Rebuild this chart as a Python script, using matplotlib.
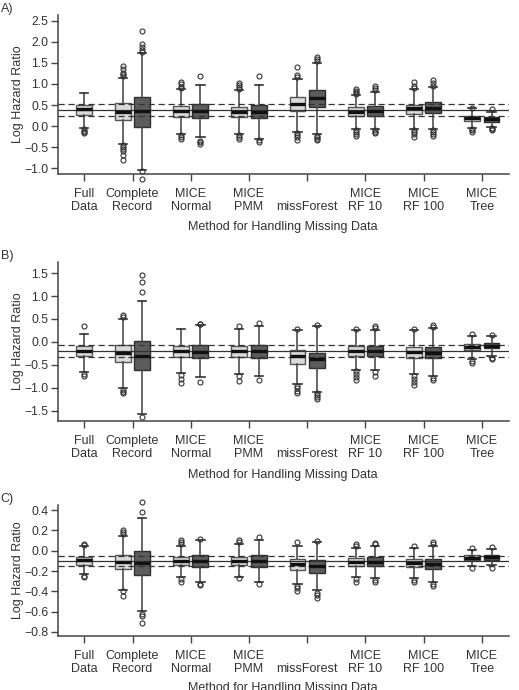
import numpy as np
import matplotlib.pyplot as plt

plt.rcParams['font.family'] = ['Liberation Sans', 'DejaVu Sans']

methods = ['Full\nData', 'Complete\nRecord', 'MICE\nNormal', 'MICE\nPMM',
           '\nmissForest', 'MICE\nRF 10', 'MICE\nRF 100', 'MICE\nTree']

# box order: Full Data, then (light, dark) pair for each other method
# Panel A
a_q1 = [0.26, 0.14, -0.02, 0.21, 0.20, 0.21, 0.19, 0.36, 0.45, 0.24, 0.24, 0.28, 0.30, 0.13, 0.10]
a_med = [0.40, 0.33, 0.36, 0.35, 0.35, 0.34, 0.34, 0.52, 0.66, 0.34, 0.36, 0.42, 0.44, 0.18, 0.16]
a_q3 = [0.49, 0.55, 0.70, 0.47, 0.53, 0.46, 0.51, 0.68, 0.86, 0.45, 0.48, 0.50, 0.56, 0.245, 0.21]
a_lo = [-0.05, -0.42, -1.04, -0.20, -0.27, -0.19, -0.30, -0.13, -0.20, -0.06, -0.06, -0.07, -0.06, -0.04, -0.02]
a_hi = [0.79, 1.15, 1.73, 0.87, 0.97, 0.85, 0.97, 1.13, 1.51, 0.74, 0.82, 0.87, 0.92, 0.42, 0.34]
a_out = [[-0.08, -0.11, -0.14, -0.17],
         [1.2, 1.23, 1.27, 1.35, 1.42, -0.46, -0.5, -0.54, -0.6, -0.68, -0.8],
         [1.76, 1.8, 1.88, 1.95, 2.25, -1.07, -1.25],
         [0.9, 0.94, 1.0, 1.05, -0.22, -0.25, -0.3],
         [1.18, -0.35, -0.39, -0.43],
         [0.88, 0.92, 0.97, 1.02, -0.22, -0.26, -0.3],
         [1.18, -0.33, -0.38],
         [1.17, 1.21, 1.41, -0.17, -0.22, -0.27, -0.32],
         [1.55, 1.6, 1.64, -0.23, -0.27, -0.3, -0.33],
         [0.77, 0.8, 0.83, 0.87, -0.1, -0.15, -0.2, -0.24],
         [0.86, 0.9, 0.95, -0.1, -0.13, -0.17],
         [0.9, 0.95, 1.05, -0.1, -0.15, -0.2, -0.25],
         [0.96, 1.02, 1.1, -0.1, -0.15, -0.2, -0.24],
         [0.44, -0.07, -0.1, -0.13],
         [0.4, -0.05, -0.08, -0.1]]
a_ref = [0.38, 0.24, 0.52]

# Panel B
b_q1 = [-0.31, -0.435, -0.61, -0.33, -0.35, -0.33, -0.35, -0.47, -0.565, -0.31, -0.31, -0.35, -0.35, -0.18, -0.14]
b_med = [-0.20, -0.25, -0.30, -0.20, -0.21, -0.20, -0.20, -0.31, -0.36, -0.19, -0.20, -0.22, -0.23, -0.11, -0.08]
b_q3 = [-0.095, -0.06, 0.013, -0.08, -0.07, -0.08, -0.07, -0.17, -0.23, -0.08, -0.08, -0.11, -0.11, -0.035, -0.02]
b_lo = [-0.66, -1.0, -1.57, -0.67, -0.77, -0.70, -0.75, -0.91, -1.09, -0.60, -0.60, -0.69, -0.75, -0.38, -0.30]
b_hi = [0.18, 0.50, 0.90, 0.28, 0.36, 0.28, 0.35, 0.27, 0.34, 0.27, 0.27, 0.27, 0.30, 0.14, 0.12]
b_out = [[0.34, -0.70, -0.73],
         [0.55, 0.58, -1.04, -1.08, -1.12],
         [1.09, 1.30, 1.46, -1.64],
         [-0.72, -0.80, -0.89],
         [0.38, 0.40, -0.87],
         [0.34, -0.75, -0.86],
         [0.42, -0.82],
         [0.29, -0.95, -1.0, -1.06, -1.12],
         [0.37, -1.12, -1.16, -1.2, -1.24],
         [0.29, -0.64, -0.7, -0.77, -0.83],
         [0.31, 0.34, -0.66, -0.73],
         [0.29, -0.74, -0.8, -0.87, -0.93],
         [0.33, 0.36, -0.78, -0.82],
         [0.17, -0.42, -0.46],
         [0.16, -0.34, -0.37]]
b_ref = [-0.20, -0.075, -0.33]

# Panel C
c_q1 = [-0.145, -0.178, -0.244, -0.145, -0.16, -0.145, -0.16, -0.187, -0.22, -0.155, -0.155, -0.16, -0.178, -0.096, -0.087]
c_med = [-0.096, -0.11, -0.12, -0.10, -0.105, -0.10, -0.105, -0.128, -0.155, -0.11, -0.11, -0.12, -0.128, -0.07, -0.063]
c_q3 = [-0.063, -0.047, -0.007, -0.063, -0.047, -0.063, -0.047, -0.078, -0.09, -0.068, -0.063, -0.078, -0.078, -0.047, -0.04]
c_lo = [-0.23, -0.385, -0.59, -0.26, -0.31, -0.26, -0.31, -0.325, -0.39, -0.26, -0.27, -0.27, -0.31, -0.155, -0.145]
c_hi = [0.042, 0.14, 0.325, 0.05, 0.11, 0.068, 0.11, 0.042, 0.09, 0.029, 0.05, 0.03, 0.05, 0.01, 0.019]
c_out = [[0.055, 0.068, -0.25, -0.26],
         [0.16, 0.18, 0.2, -0.4, -0.45],
         [0.38, 0.48, -0.62, -0.64, -0.71],
         [0.07, 0.09, 0.11, -0.28, -0.31],
         [0.12, -0.33, -0.34],
         [0.09, 0.11, -0.27],
         [0.13, -0.33],
         [0.09, -0.35, -0.37, -0.40],
         [0.1, -0.42, -0.44, -0.47],
         [0.05, 0.068, -0.28, -0.31],
         [0.065, 0.078, -0.29, -0.31],
         [0.05, -0.29, -0.31],
         [0.07, 0.09, -0.33, -0.35],
         [0.027, -0.17],
         [0.035, -0.17]]
c_ref = [-0.10, -0.05, -0.15]

# box positions: Full Data alone, then pairs with a gap between groups
positions = [1] + [p for g in range(1, 8) for p in (3 * g, 3 * g + 1)]
tick_pos = [1] + [3 * g + 0.5 for g in range(1, 8)]

LIGHT, DARK = '#dadada', '#5c5c5c'
EDGE_L, EDGE_D = '#555555', '#2f2f2f'
AX_COL = '#444444'


def fmt(t):
    v = round(float(t), 1) + 0.0
    return f'{v:.1f}'.replace('-', '\u2212')


def draw_panel(ax, q1, med, q3, lo, hi, out, ref, ylim, yticks, letter, xlab_y):
    stats = []
    for i in range(len(q1)):
        stats.append(dict(q1=q1[i], med=med[i], q3=q3[i], whislo=lo[i],
                          whishi=hi[i], fliers=out[i]))
    bp = ax.bxp(stats, positions=positions, widths=0.82, capwidths=0.42,
                patch_artist=True, manage_ticks=False,
                boxprops=dict(linewidth=1.0),
                medianprops=dict(color='#111111', linewidth=2.4, zorder=5),
                whiskerprops=dict(color='#4d4d4d', linewidth=1.2),
                capprops=dict(color='#333333', linewidth=1.2),
                flierprops=dict(marker='o', markersize=3.6, markerfacecolor='none',
                                markeredgecolor='#333333', markeredgewidth=0.8))
    for i, box in enumerate(bp['boxes']):
        dark = i > 0 and i % 2 == 0
        box.set_facecolor(DARK if dark else LIGHT)
        box.set_edgecolor(EDGE_D if dark else EDGE_L)
    # outliers may sit just beyond the axis range, as in the original
    for fl in bp['fliers']:
        fl.set_clip_on(False)

    # reference value and its interval
    ax.axhline(ref[0], color='#333333', lw=0.9, zorder=4)
    for r in ref[1:]:
        ax.axhline(r, color='#333333', lw=0.9, ls=(0, (5, 3)), zorder=4)

    ax.set_xlim(-0.34, 22.9)
    ax.set_ylim(*ylim)
    ax.set_yticks(yticks)
    ax.set_yticklabels([fmt(t) for t in yticks])
    ax.set_xticks(tick_pos)
    ax.set_xticklabels(methods, fontsize=9, linespacing=1.15)
    ax.tick_params(axis='both', direction='out', length=5, width=1,
                   color=AX_COL, labelcolor='#333333')
    ax.tick_params(axis='y', labelsize=8.8, pad=2)
    ax.tick_params(axis='x', pad=5)
    for s in ['top', 'right']:
        ax.spines[s].set_visible(False)
    for s in ['left', 'bottom']:
        ax.spines[s].set_color(AX_COL)
        ax.spines[s].set_linewidth(1.1)

    ax.set_ylabel('Log Hazard Ratio', fontsize=9, color='#333333')
    ax.yaxis.set_label_coords(-0.076, 0.5)
    bb = ax.get_position()
    fig.text(0.001, bb.y1 + 6 / 690, letter, fontsize=9, color='#333333',
             ha='left', va='center')
    fig.text(0.545, 1 - xlab_y / 690, 'Method for Handling Missing Data',
             fontsize=9, color='#333333', ha='center', va='center')


fig = plt.figure(figsize=(5.19, 6.90), dpi=100)
left, width = 58 / 519, 451 / 519
ax_a = fig.add_axes([left, 1 - 174 / 690, width, 159 / 690])
ax_b = fig.add_axes([left, 1 - 421 / 690, width, 159 / 690])
ax_c = fig.add_axes([left, 1 - 636 / 690, width, 131 / 690])

draw_panel(ax_a, a_q1, a_med, a_q3, a_lo, a_hi, a_out, a_ref, (-1.14, 2.64),
           np.arange(-1.0, 2.51, 0.5), 'A)', 227)
draw_panel(ax_b, b_q1, b_med, b_q3, b_lo, b_hi, b_out, b_ref, (-1.72, 1.74),
           np.arange(-1.5, 1.51, 0.5), 'B)', 475)
draw_panel(ax_c, c_q1, c_med, c_q3, c_lo, c_hi, c_out, c_ref, (-0.84, 0.45),
           np.arange(-0.8, 0.41, 0.2), 'C)', 688)

fig.savefig('out.png', dpi=100)
